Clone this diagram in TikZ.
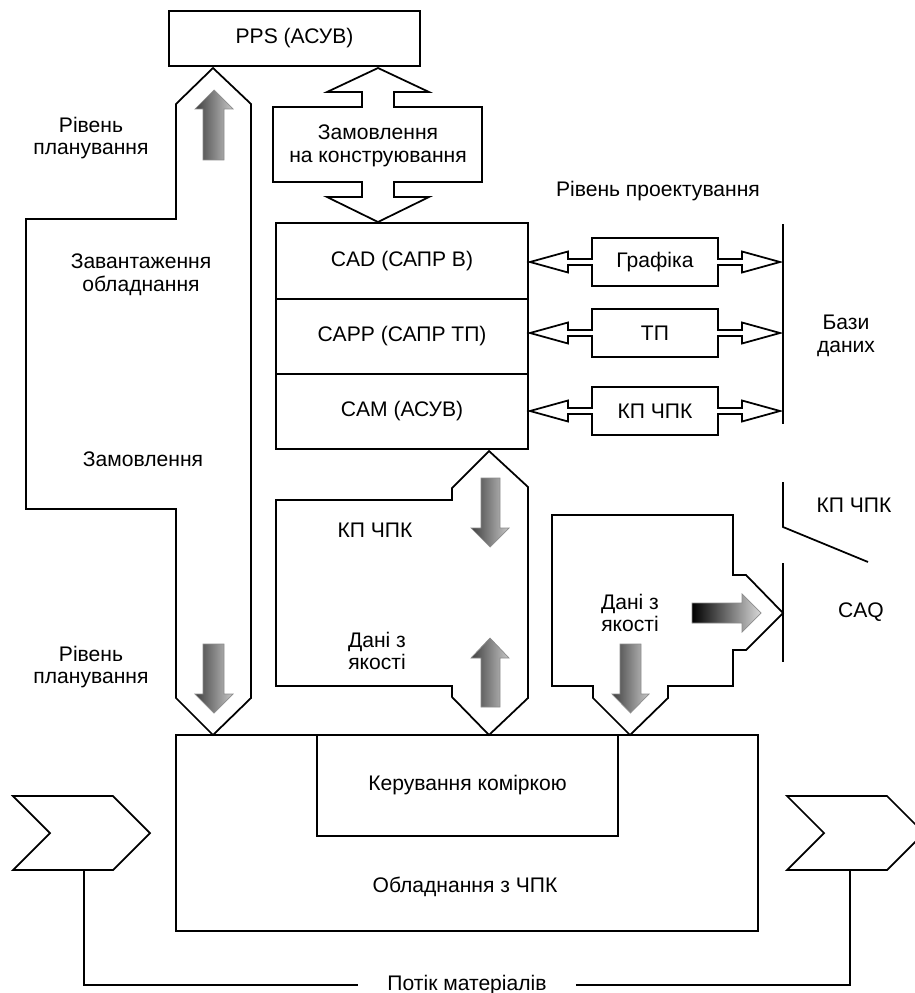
\documentclass[tikz,border=0pt]{standalone}
\usepackage{fontspec}
\setmainfont{Liberation Sans}
\usetikzlibrary{positioning}

\tikzset{
  box/.style={draw, line width=1pt, align=center, inner sep=0pt, outer sep=0pt},
  lbl/.style={align=center, inner sep=1pt},
  outl/.style={draw, line width=1pt, line join=miter},
  grayarrow/.style={left color=black!75, right color=black!22, draw=black!45, line width=0.4pt},
  darkarrow/.style={left color=black, right color=black!15, draw=black!45, line width=0.4pt},
}

\begin{document}
\begin{tikzpicture}[x=0.02cm, y=-0.02cm, font=\fontsize{12}{13}\selectfont]
        \useasboundingbox (0,0) rectangle (914,993);
        % planning level
        \node[box, minimum width=5.02cm, minimum height=1.1cm] (pps) at (294.5,38.5) {PPS (АСУВ)};
        \draw[outl] (213,68) -- (251,104) -- (251,698) -- (213,735) -- (176,698) -- (176,509)
              -- (26,509) -- (26,219) -- (176,219) -- (176,104) -- cycle;
        \shadedraw[grayarrow] (203,160) -- (203,109) -- (195,109) -- (214,90) -- (233,109) -- (224,109) -- (224,160) -- cycle;
        \shadedraw[grayarrow] (203,644) -- (203,694) -- (195,694) -- (214,713) -- (233,694) -- (224,694) -- (224,644) -- cycle;
        \node[lbl] (plan1) at (91,138) {Рівень\\планування};
        \node[lbl] (load) at (141,275) {Завантаження\\обладнання};
        \node[lbl] (orders) at (143,459) {Замовлення};
        \node[lbl] (plan2) at (91,667) {Рівень\\планування};
        % design order
        \draw[outl] (378,68) -- (429,92) -- (394,92) -- (394,107) -- (482,107) -- (482,182) -- (394,182)
              -- (394,197) -- (429,197) -- (378,222) -- (327,197) -- (362,197) -- (362,182) -- (273,182)
              -- (273,107) -- (362,107) -- (362,92) -- (327,92) -- cycle;
        \node[lbl] (order) at (378,146) {Замовлення\\на конструювання};
        % design level
        \node[lbl] (design) at (658,191) {Рівень проектування};
        \node[box, minimum width=5.04cm, minimum height=1.52cm] (cad) at (402,261) {CAD (САПР В)};
        \node[box, minimum width=5.04cm, minimum height=1.5cm, below=0pt of cad] (capp) {CAPP (САПР ТП)};
        \node[box, minimum width=5.04cm, minimum height=1.5cm, below=0pt of capp] (cam) {CAM (АСУВ)};
        \foreach \y/\t in {262/Графіка, 333/ТП, 411/КП ЧПК}{
          \draw[outl] (530,\y) -- (568,\y-10.5) -- (568,\y-3) -- (592,\y-3) -- (592,\y-24) -- (718,\y-24)
                -- (718,\y-3) -- (742,\y-3) -- (742,\y-10.5) -- (780,\y) -- (742,\y+10.5) -- (742,\y+3)
                -- (718,\y+3) -- (718,\y+24) -- (592,\y+24) -- (592,\y+3) -- (568,\y+3) -- (568,\y+10.5) -- cycle;
          \node[lbl] (link\y) at (655,\y) {\t};
        }
        \draw[line width=1pt] (783,224) -- (783,424);
        \node[lbl] (db) at (846,336) {Бази\\даних};
        % NC programs and quality data
        \draw[outl] (489,451) -- (528,487) -- (528,698) -- (489,735) -- (452,697) -- (452,686) -- (276,686)
              -- (276,500) -- (452,500) -- (452,488) -- cycle;
        \shadedraw[grayarrow] (481,478) -- (481,528) -- (471,528) -- (490,547) -- (509,528) -- (500,528) -- (500,478) -- cycle;
        \shadedraw[grayarrow] (481,707) -- (481,658) -- (471,658) -- (490,638) -- (509,658) -- (500,658) -- (500,707) -- cycle;
        \node[lbl] (nc1) at (375,530) {КП ЧПК};
        \node[lbl] (qual1) at (377,651) {Дані з\\якості};
        \draw[outl] (552,515) -- (733,515) -- (733,575) -- (746,575) -- (783,613) -- (746,650) -- (733,650)
              -- (733,686) -- (668,686) -- (668,698) -- (630,735) -- (593,698) -- (593,686) -- (552,686) -- cycle;
        \shadedraw[darkarrow] (692,603) -- (742,603) -- (742,594) -- (761,613) -- (742,632) -- (742,623) -- (692,623) -- cycle;
        \shadedraw[grayarrow] (620,644) -- (620,694) -- (612,694) -- (630.5,713) -- (649,694) -- (641,694) -- (641,644) -- cycle;
        \node[lbl] (qual2) at (630,613) {Дані з\\якості};
        % quality assurance
        \draw[line width=1pt] (783,482) -- (783,527) -- (868,562);
        \draw[line width=1pt] (783,563) -- (783,662);
        \node[lbl] (nc2) at (854,505) {КП ЧПК};
        \node[lbl] (caq) at (861,612) {CAQ};
        % cell and machines
        \draw[line width=1pt] (176,735) rectangle (758,931);
        \node[box, minimum width=6.02cm, minimum height=2.02cm] (cell) at (467.5,785.5) {Керування коміркою};
        \node[lbl] (machine) at (465,887) {Обладнання з ЧПК};
        % material flow
        \draw[outl] (13,796) -- (113,796) -- (150,833) -- (113,870) -- (13,870) -- (50,833) -- cycle;
        \draw[outl] (787,796) -- (887,796) -- (924,833) -- (887,870) -- (787,870) -- (824,833) -- cycle;
        \coordinate (lin) at (84,870);
        \coordinate (rout) at (850,870);
        \node[lbl, inner xsep=0.58cm] (flow) at (467,985) {Потік матеріалів};
        \draw[line width=1pt] (lin) |- (flow.west);
        \draw[line width=1pt] (flow.east) -| (rout);
    \end{tikzpicture}
\end{document}
